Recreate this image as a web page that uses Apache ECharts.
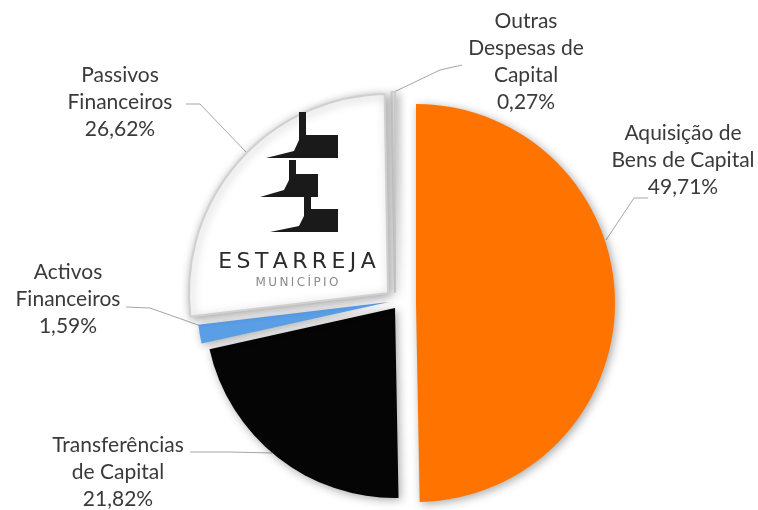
<!DOCTYPE html>
<html>
<head>
<meta charset="utf-8">
<script src="https://cdn.jsdelivr.net/npm/echarts@6/dist/echarts.min.js"></script>
<style>
html, body { margin: 0; padding: 0; background: #fff; }
#chart { width: 758px; height: 510px; }
</style>
</head>
<body>
<div id="chart"></div>
<script>
var categories = ['Aquisição de\nBens de Capital', 'Transferências\nde Capital', 'Activos\nFinanceiros', 'Passivos\nFinanceiros', 'Outras\nDespesas de\nCapital'];
var values = [49.71, 21.82, 1.59, 26.62, 0.27];
var colors = ['#ff7400', '#050505', '#5a9ee6', '#ffffff', '#f4f4f4'];

// explode offset + radius per slice, and where each label sits
var cx = 400, cy = 300;
var offsets = [[16, 3], [-5, 8], [-11, 2], [-12, -7], [-5, -8]];
var radii = [199, 190, 192, 199, 200];
var labelPos = [[683, 160], [118, 472], [68, 299], [120, 102], [526, 62]];
var linePts = [
    [[606, 240], [634, 198], [648, 198]],
    [[272, 453], [230, 452], [190, 452]],
    [[201, 326], [150, 308], [126, 307]],
    [[246, 152], [200, 104], [186, 104]],
    [[394, 92], [440, 70], [462, 65]]
];

var chart = echarts.init(document.getElementById('chart'));

function fmt(v) { return v.toFixed(2).replace('.', ',') + '%'; }
function spaced(s) { return s.split('').join('\u2009'); }

var series = values.map(function (val, i) {
    return {
        type: 'pie',
        center: [cx + offsets[i][0], cy + offsets[i][1]],
        radius: radii[i],
        startAngle: 90,
        clockwise: true,
        avoidLabelOverlap: false,
        silent: true,
        z: i === 3 ? 3 : 2,
        data: categories.map(function (name, j) {
            var on = j === i;
            return {
                name: name,
                value: values[j],
                itemStyle: on ? {
                    color: colors[j],
                    borderColor: j >= 3 ? '#d0d0d0' : 'rgba(0,0,0,0)',
                    borderWidth: j >= 3 ? 2 : 0,
                    shadowBlur: 10,
                    shadowOffsetX: 2,
                    shadowOffsetY: 2,
                    shadowColor: 'rgba(0,0,0,0.35)'
                } : { color: 'rgba(0,0,0,0)' },
                label: { show: on },
                labelLine: { show: on }
            };
        }),
        label: {
            formatter: function (p) { return p.name + '\n' + fmt(p.value); },
            fontFamily: 'Lato',
            fontSize: 21,
            lineHeight: 27,
            color: '#3a3a3a',
            align: 'center'
        },
        labelLine: {
            lineStyle: { color: '#a6a6a6', width: 1 }
        },
        labelLayout: function (p) {
            if (p.dataIndex !== i) return {};
            return {
                x: labelPos[i][0],
                y: labelPos[i][1],
                align: 'center',
                verticalAlign: 'middle',
                labelLinePoints: linePts[i]
            };
        }
    };
});

var logo = [
    [[299, 112], [306, 112], [306, 135], [338, 135], [338, 158], [266, 158], [294, 151], [299, 140]],
    [[289, 160], [296, 160], [296, 174], [318, 174], [318, 197], [260, 197], [284, 190], [289, 180]],
    [[304, 197], [311, 197], [311, 209], [338, 209], [338, 232], [270, 232], [299, 226], [304, 216]]
];

var graphic = logo.map(function (pts) {
    return {
        type: 'polygon',
        shape: { points: pts },
        style: { fill: '#1a1a1a' },
        z: 10
    };
});
graphic.push({
    type: 'text', x: 297, y: 262, z: 10,
    style: { text: spaced('ESTARREJA'), fill: '#2b2b2b', font: '22px "DejaVu Sans"', align: 'center', verticalAlign: 'middle' }
});
graphic.push({
    type: 'text', x: 297, y: 283, z: 10,
    style: { text: spaced('MUNICÍPIO'), fill: '#8a8a8a', font: '12px "DejaVu Sans"', align: 'center', verticalAlign: 'middle' }
});

chart.setOption({
    animation: false,
    backgroundColor: '#ffffff',
    series: series,
    graphic: graphic
});
</script>
</body>
</html>
